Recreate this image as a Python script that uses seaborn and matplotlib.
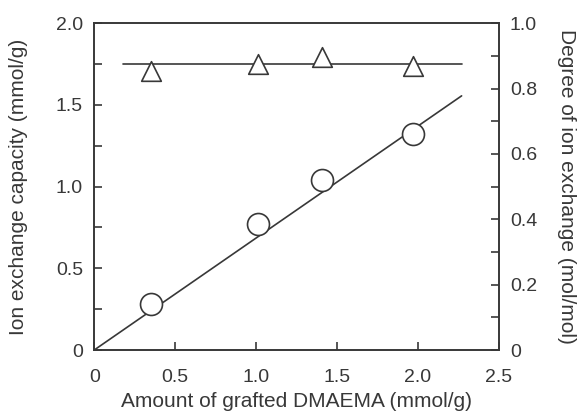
import numpy as np
import pandas as pd
import matplotlib.pyplot as plt
import seaborn as sns
from matplotlib.ticker import MultipleLocator

# okunan veriler
grafted = [0.35, 1.01, 1.41, 1.97]
capacity = [0.28, 0.77, 1.04, 1.32]
degree = [0.855, 0.875, 0.895, 0.87]

fit_x = [0.0, 2.27]
fit_y = [0.0, 1.555]
flat_x = [0.18, 2.27]
flat_y = [0.875, 0.875]

sns.set_theme(style="ticks")
plt.rcParams["font.family"] = ["Liberation Sans", "DejaVu Sans"]
ink = "#383838"
plt.rcParams.update({
    "text.color": ink, "axes.labelcolor": ink, "axes.edgecolor": ink,
    "xtick.color": ink, "ytick.color": ink,
    "xtick.direction": "in", "ytick.direction": "in",
    "xtick.labelsize": 14, "ytick.labelsize": 14, "axes.labelsize": 15,
})

fig = plt.figure(figsize=(5.78, 4.13), dpi=100)
ax = fig.add_axes([0.163, 0.1525, 0.7, 0.7915])
ax2 = ax.twinx()

df = pd.DataFrame({"x": grafted, "cap": capacity, "deg": degree})

sns.lineplot(x=fit_x, y=fit_y, ax=ax, color=ink, lw=1.2)
sns.scatterplot(data=df, x="x", y="cap", ax=ax, marker="o", s=250,
                facecolor="white", edgecolor=ink, linewidth=1.2, zorder=3)
sns.lineplot(x=flat_x, y=flat_y, ax=ax2, color=ink, lw=1.2)
sns.scatterplot(data=df, x="x", y="deg", ax=ax2, marker="^", s=200,
                facecolor="white", edgecolor=ink, linewidth=1.2, zorder=3)

ax.set_xlim(0, 2.5)
ax.set_ylim(0, 2.0)
ax2.set_ylim(0, 1.0)

ax.set_xticks([0, 0.5, 1.0, 1.5, 2.0, 2.5])
ax.set_xticklabels(["0", "0.5", "1.0", "1.5", "2.0", "2.5"])
ax.set_yticks([0, 0.5, 1.0, 1.5, 2.0])
ax.set_yticklabels(["0", "0.5", "1.0", "1.5", "2.0"])
ax.yaxis.set_minor_locator(MultipleLocator(0.25))
ax2.set_yticks([0, 0.2, 0.4, 0.6, 0.8, 1.0])
ax2.set_yticklabels(["0", "0.2", "0.4", "0.6", "0.8", "1.0"])
ax2.yaxis.set_minor_locator(MultipleLocator(0.1))

for a in (ax, ax2):
    a.tick_params(which="major", length=6, width=1.2, pad=8)
    a.tick_params(which="minor", length=6, width=1.2)
    for s in a.spines.values():
        s.set_linewidth(1.2)
ax.tick_params(axis="x", pad=14)

ax.set_xlabel("Amount of grafted DMAEMA (mmol/g)", labelpad=4)
ax.set_ylabel("Ion exchange capacity (mmol/g)", labelpad=20)
ax2.set_ylabel("Degree of ion exchange (mol/mol)", rotation=270, labelpad=28)

fig.savefig("out.png", dpi=100)
